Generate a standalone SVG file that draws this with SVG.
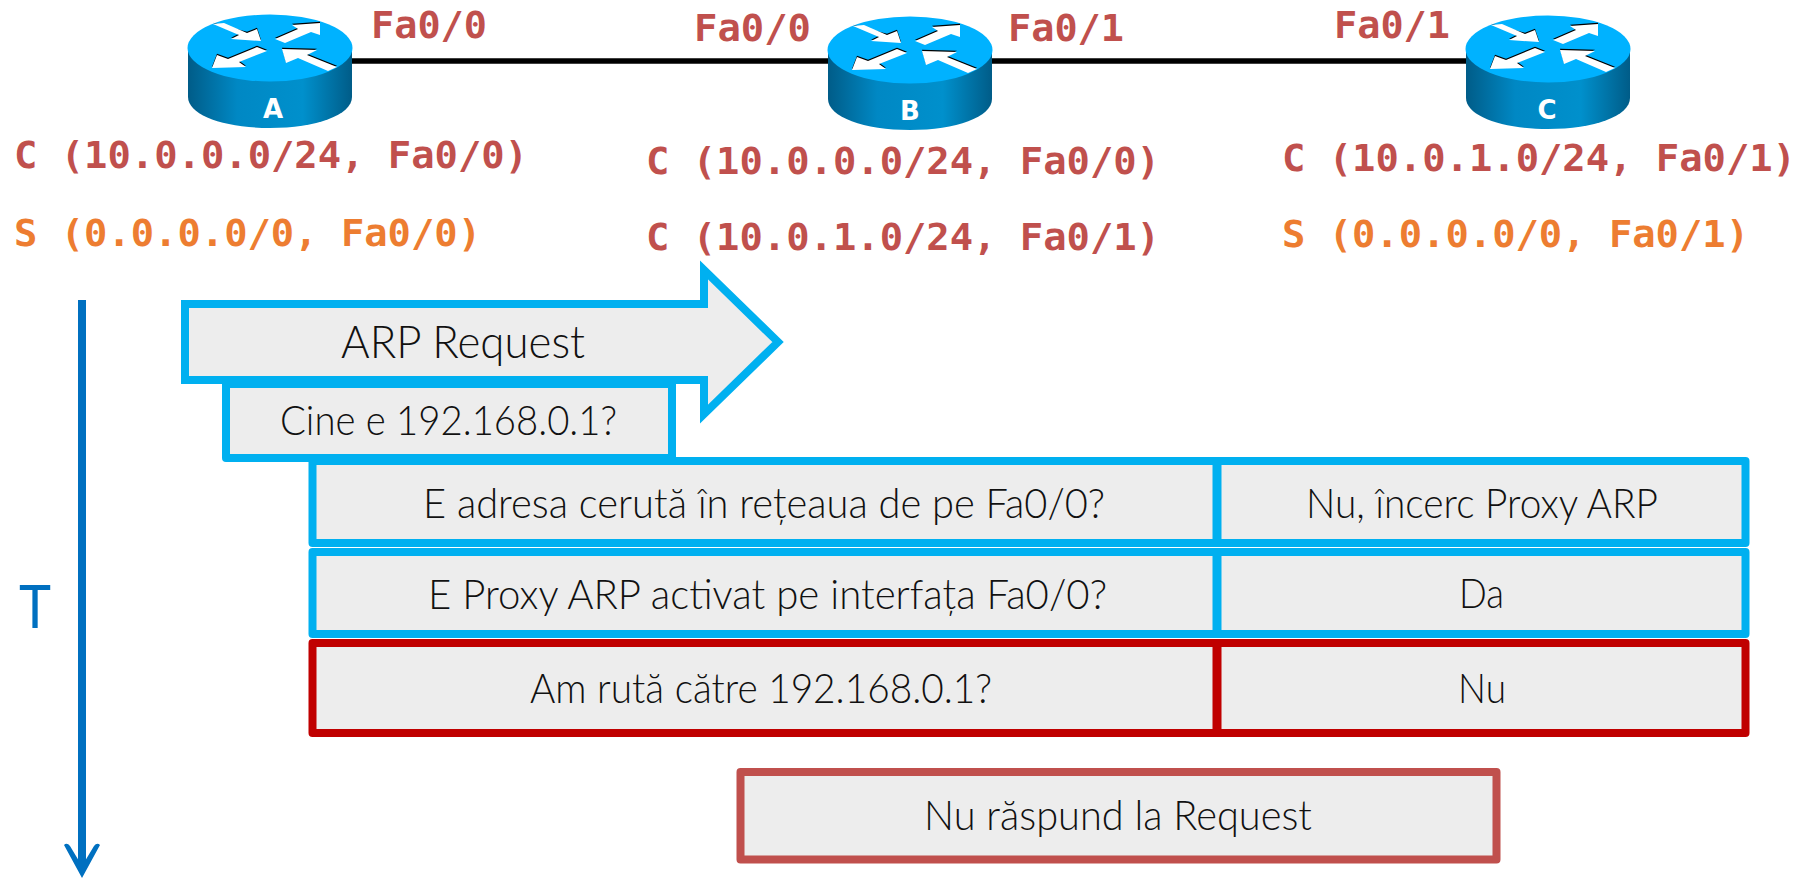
<svg xmlns="http://www.w3.org/2000/svg" width="1804" height="878" viewBox="0 0 1804 878">
<style>
.box{fill:#EDEDED;stroke-width:8;stroke-linejoin:round}
.cy{stroke:#00B0F0}.rd{stroke:#C00000}.dr{stroke:#C0504D}
.t{font-family:Lato,"Open Sans","Liberation Sans",sans-serif;font-weight:300;fill:#111;font-size:41px;text-anchor:start}
.m{font-family:"DejaVu Sans Mono","Liberation Mono",monospace;font-weight:700;font-size:38px}
.rr{fill:#C0504D}.or{fill:#ED7D31}
.lab{font-family:"DejaVu Sans","Liberation Sans",sans-serif;font-weight:700;font-size:26px;fill:#fff;text-anchor:middle}
</style>
<defs>
<linearGradient id="side" x1="0" x2="1" y1="0" y2="0">
<stop offset="0" stop-color="#005C88"/><stop offset="0.3" stop-color="#0088C4"/><stop offset="0.7" stop-color="#0090CC"/><stop offset="1" stop-color="#005C88"/>
</linearGradient>
<filter id="blur" x="-5%" y="-300%" width="110%" height="700%"><feGaussianBlur stdDeviation="2.500"/></filter>
<g id="router">
<path d="M-82 0V49C-82 67-46 80 0 80S82 67 82 49V0Z" fill="url(#side)"/>
<ellipse cx="0" cy="0" rx="82.500" ry="33.500" fill="#00B2FF"/>
<g fill="#000" transform="translate(0,-1.200)">
<path d="M-57-24-23-15-13-19-9-7-39-9-31-13Z"/>
<path d="M5-9 28-19 22-23 50-25 50-13 41-16 15-5Z"/>
<path d="M-3 3-13-1-42 11-53 7-58 20-24 19-31 14Z"/>
<path d="M12 1 47 2 37 7 67 19 58 23 28 10 16 15Z"/>
</g>
<g fill="#fff">
<path d="M-57-24-46-25-23-15-13-19-9-7-39-9-31-13Z"/>
<path d="M5-9 28-19 22-23 50-25 50-13 41-16 15-5Z"/>
<path d="M-3 3-13-1-42 11-53 7-58 20-24 19-31 14Z"/>
<path d="M12 1 47 2 37 7 67 19 58 23 28 10 16 15Z"/>
</g>
</g>
</defs>
<g id="connectors">
<line x1="352" y1="66" x2="1466" y2="66" stroke="#777" stroke-width="5" filter="url(#blur)"/>
<line x1="352" y1="61" x2="1466" y2="61" stroke="#000" stroke-width="5.500"/>
<line x1="82" y1="300" x2="82" y2="870" stroke="#0070C0" stroke-width="8"/>
<path d="M64 845Q67 842 70 846L82 866 94 846Q97 842 100 845L82 878Z" fill="#0070C0"/>
</g>
<g id="router-A"><use href="#router" x="270" y="48"/><text class="lab" x="273" y="118">A</text></g>
<g id="router-B"><use href="#router" x="910" y="50"/><text class="lab" x="910" y="120">B</text></g>
<g id="router-C"><use href="#router" x="1548" y="49"/><text class="lab" x="1547" y="119">C</text></g>
<g id="labels">
<text class="m rr" x="371" y="38" textLength="116" lengthAdjust="spacingAndGlyphs">Fa0/0</text>
<text class="m rr" x="694" y="41" textLength="117" lengthAdjust="spacingAndGlyphs">Fa0/0</text>
<text class="m rr" x="1008" y="41" textLength="116" lengthAdjust="spacingAndGlyphs">Fa0/1</text>
<text class="m rr" x="1334" y="38" textLength="116" lengthAdjust="spacingAndGlyphs">Fa0/1</text>
<text class="m rr" x="14" y="168" textLength="514" lengthAdjust="spacingAndGlyphs">C (10.0.0.0/24, Fa0/0)</text>
<text class="m or" x="14" y="246" textLength="467" lengthAdjust="spacingAndGlyphs">S (0.0.0.0/0, Fa0/0)</text>
<text class="m rr" x="646" y="174" textLength="514" lengthAdjust="spacingAndGlyphs">C (10.0.0.0/24, Fa0/0)</text>
<text class="m rr" x="646" y="250" textLength="514" lengthAdjust="spacingAndGlyphs">C (10.0.1.0/24, Fa0/1)</text>
<text class="m rr" x="1282" y="171" textLength="514" lengthAdjust="spacingAndGlyphs">C (10.0.1.0/24, Fa0/1)</text>
<text class="m or" x="1282" y="247" textLength="467" lengthAdjust="spacingAndGlyphs">S (0.0.0.0/0, Fa0/1)</text>
<text x="19" y="628" style="font-family:Lato,'Open Sans',sans-serif;font-weight:400;font-size:60px;fill:#0070C0" textLength="32" lengthAdjust="spacingAndGlyphs">T</text>
</g>
<g id="arp-request">
<path class="box cy" d="M185 304H704V270L778 342 704 414V380H185Z" style="stroke-linejoin:miter"/>
<text class="t" x="341" y="358" style="font-size:46px" textLength="244" lengthAdjust="spacingAndGlyphs">ARP Request</text>
</g>
<g id="cine">
<rect class="box cy" x="226" y="384" width="446" height="74"/>
<text class="t" x="280" y="435" textLength="337" lengthAdjust="spacingAndGlyphs">Cine e 192.168.0.1?</text>
</g>
<g id="row-1">
<rect class="box cy" x="312.500" y="461" width="1433" height="82"/>
<line x1="1217" y1="461" x2="1217" y2="543" stroke="#00B0F0" stroke-width="9"/>
<text class="t" x="423" y="518" textLength="682" lengthAdjust="spacingAndGlyphs">E adresa cerută în rețeaua de pe Fa0/0?</text>
<text class="t" x="1306" y="518" textLength="352" lengthAdjust="spacingAndGlyphs">Nu, încerc Proxy ARP</text>
</g>
<g id="row-2">
<rect class="box cy" x="312.500" y="552" width="1433" height="82"/>
<line x1="1217" y1="552" x2="1217" y2="634" stroke="#00B0F0" stroke-width="9"/>
<text class="t" x="428" y="609" textLength="679" lengthAdjust="spacingAndGlyphs">E Proxy ARP activat pe interfața Fa0/0?</text>
<text class="t" x="1459" y="608" textLength="45" lengthAdjust="spacingAndGlyphs">Da</text>
</g>
<g id="row-3">
<rect class="box rd" x="312.500" y="643" width="1433" height="90"/>
<line x1="1217" y1="643" x2="1217" y2="733" stroke="#C00000" stroke-width="9"/>
<text class="t" x="530" y="703" textLength="462" lengthAdjust="spacingAndGlyphs">Am rută către 192.168.0.1?</text>
<text class="t" x="1458" y="703" textLength="48" lengthAdjust="spacingAndGlyphs">Nu</text>
</g>
<g id="result">
<rect class="box dr" x="740.500" y="772" width="756" height="87.500"/>
<text class="t" x="924" y="830" textLength="388" lengthAdjust="spacingAndGlyphs">Nu răspund la Request</text>
</g>
</svg>
